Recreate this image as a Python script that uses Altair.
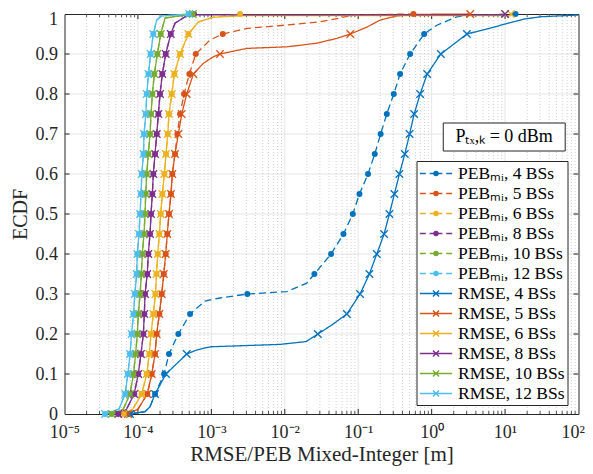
import altair as alt
import pandas as pd

# ---------------- data ----------------
LEVELS = [0.0, 0.05, 0.10, 0.15, 0.20, 0.25, 0.30, 0.35, 0.40, 0.45, 0.50,
          0.55, 0.60, 0.65, 0.70, 0.75, 0.80, 0.85, 0.90, 0.95, 1.0]

SERIES = ["PEBₘᵢ, 4 BSs", "PEBₘᵢ, 5 BSs", "PEBₘᵢ, 6 BSs", "PEBₘᵢ, 8 BSs",
          "PEBₘᵢ, 10 BSs", "PEBₘᵢ, 12 BSs",
          "RMSE, 4 BSs", "RMSE, 5 BSs", "RMSE, 6 BSs", "RMSE, 8 BSs",
          "RMSE, 10 BSs", "RMSE, 12 BSs"]
COLORS = ["#0072BD", "#D95319", "#EDB120", "#7E2F8E", "#77AC30", "#4DBEEE"] * 2

# x value of each curve at the marker levels (LEVELS)
PEB4 = [7.8e-5, 1.71e-4, 2.27e-4, 2.65e-4, 3.55e-4, 5.13e-4, 3.09e-3, 2.53e-2, 4.27e-2, 6.29e-2, 8.44e-2,
        0.104, 0.136, 0.168, 0.202, 0.245, 0.305, 0.372, 0.509, 0.79, 13.9]
PEB5 = [7.33e-5, 1.343e-4, 1.542e-4, 1.71e-4, 1.80e-4, 1.958e-4, 2.11e-4, 2.25e-4, 2.39e-4, 2.51e-4, 2.65e-4,
        2.82e-4, 2.94e-4, 3.2e-4, 3.44e-4, 3.75e-4, 4.25e-4, 5.01e-4, 6.13e-4, 1.43e-3, 0.565]
PEB6 = [6.47e-5, 1.126e-4, 1.318e-4, 1.43e-4, 1.508e-4, 1.621e-4, 1.73e-4, 1.79e-4, 1.862e-4, 1.958e-4, 2.045e-4,
        2.15e-4, 2.29e-4, 2.41e-4, 2.55e-4, 2.65e-4, 2.89e-4, 3.13e-4, 3.75e-4, 4.86e-4, 2.46e-3]
PEB8 = [5.4e-5, 8.9e-5, 1.01e-4, 1.10e-4, 1.185e-4, 1.222e-4, 1.25e-4, 1.339e-4, 1.386e-4, 1.462e-4, 1.508e-4,
        1.571e-4, 1.621e-4, 1.71e-4, 1.803e-4, 1.898e-4, 2.0e-4, 2.15e-4, 2.39e-4, 2.80e-4, 5.8e-4]
PEB10 = [4.4e-5, 7.8e-5, 8.7e-5, 9.3e-5, 9.8e-5, 1.013e-4, 1.07e-4, 1.113e-4, 1.148e-4, 1.21e-4, 1.249e-4,
         1.277e-4, 1.318e-4, 1.386e-4, 1.462e-4, 1.508e-4, 1.571e-4, 1.673e-4, 1.838e-4, 2.045e-4, 5.55e-4]
PEB12 = [3.56e-5, 6.7e-5, 7.3e-5, 7.8e-5, 8.2e-5, 8.7e-5, 9.1e-5, 9.6e-5, 9.8e-5, 1.035e-4, 1.07e-4,
         1.10e-4, 1.13e-4, 1.19e-4, 1.21e-4, 1.28e-4, 1.32e-4, 1.39e-4, 1.49e-4, 1.62e-4, 4.9e-4]
RMSE4 = [7.8e-5, 1.71e-4, 2.41e-4, 4.62e-4, 2.82e-2, 7.0e-2, 0.106, 0.142, 0.179, 0.225, 0.266,
         0.311, 0.364, 0.431, 0.501, 0.578, 0.697, 0.869, 1.335, 3.02, None]
RMSE5 = [7.33e-5, 1.343e-4, 1.542e-4, 1.71e-4, 1.80e-4, 1.958e-4, 2.11e-4, 2.25e-4, 2.39e-4, 2.51e-4, 2.65e-4,
         2.82e-4, 2.94e-4, 3.2e-4, 3.55e-4, 3.95e-4, 4.62e-4, 5.69e-4, 1.31e-3, 7.8e-2, 3.35]
RMSE6 = [6.47e-5, 1.126e-4, 1.318e-4, 1.43e-4, 1.508e-4, 1.621e-4, 1.73e-4, 1.79e-4, 1.862e-4, 1.958e-4, 2.045e-4,
         2.15e-4, 2.29e-4, 2.41e-4, 2.55e-4, 2.65e-4, 2.89e-4, 3.13e-4, 3.75e-4, 4.86e-4, 12.0]
RMSE8 = [5.4e-5, 8.9e-5, 1.01e-4, 1.10e-4, 1.185e-4, 1.222e-4, 1.25e-4, 1.339e-4, 1.386e-4, 1.462e-4, 1.508e-4,
         1.571e-4, 1.621e-4, 1.71e-4, 1.803e-4, 1.898e-4, 2.0e-4, 2.15e-4, 2.39e-4, 2.80e-4, 10.0]
RMSE10 = [4.4e-5, 7.8e-5, 8.7e-5, 9.3e-5, 9.8e-5, 1.013e-4, 1.07e-4, 1.113e-4, 1.148e-4, 1.21e-4, 1.249e-4,
          1.277e-4, 1.318e-4, 1.386e-4, 1.462e-4, 1.508e-4, 1.571e-4, 1.673e-4, 1.838e-4, 2.045e-4, 5.6e-4]
RMSE12 = [3.56e-5, 6.7e-5, 7.3e-5, 7.8e-5, 8.2e-5, 8.7e-5, 9.1e-5, 9.6e-5, 9.8e-5, 1.035e-4, 1.07e-4,
          1.10e-4, 1.13e-4, 1.19e-4, 1.21e-4, 1.28e-4, 1.32e-4, 1.39e-4, 1.49e-4, 1.62e-4, 5.0e-4]

# intermediate (x, y) points of each curve between marker levels
PEB4_EXTRA = [(1.25e-4, 0.006), (1.46e-4, 0.018), (8.2e-4, 0.2825), (1.31e-3, 0.29), (1.07e-2, 0.306),
              (1.99e-2, 0.327), (1.18, 0.972), (2.2, 0.993), (3.35, 0.997)]
PEB5_EXTRA = [(1.0e-4, 0.012), (9.6e-4, 0.935), (3.04e-3, 0.964), (1.07e-2, 0.9725), (2.84e-2, 0.98),
              (5.67e-2, 0.99), (8.3e-2, 0.9975)]
PEB6_EXTRA = [(8.5e-5, 0.012), (6.65e-4, 0.98), (1.065e-3, 0.992), (1.8e-3, 0.997)]
PEB8_EXTRA = [(7.0e-5, 0.012), (3.2e-4, 0.977), (4.38e-4, 0.993)]
PEB10_EXTRA = [(6.3e-5, 0.012), (2.34e-4, 0.99)]
PEB12_EXTRA = [(5.5e-5, 0.012), (1.80e-4, 0.985), (2.11e-4, 0.995)]
RMSE4_EXTRA = [(1.25e-4, 0.006), (1.46e-4, 0.018), (6.33e-4, 0.16), (9.6e-4, 0.168), (8.6e-3, 0.174),
               (1.95e-2, 0.181), (4.37e-2, 0.2225), (6.95, 0.967), (17.8, 0.987), (30.1, 0.993),
               (100.0, 0.9975)]
RMSE5_EXTRA = [(1.0e-4, 0.012), (7.8e-4, 0.877), (1.065e-3, 0.893), (3.04e-3, 0.914), (1.07e-2, 0.918),
               (2.73e-2, 0.927), (5.1e-2, 0.939), (0.131, 0.967), (0.199, 0.985), (0.336, 0.995),
               (0.565, 0.999)]
RMSE6_EXTRA = [(8.5e-5, 0.012), (6.65e-4, 0.98), (1.065e-3, 0.992), (3.0e-3, 0.996), (11.9, 0.996)]
RMSE8_EXTRA = [(7.0e-5, 0.012), (3.2e-4, 0.977), (4.38e-4, 0.993), (5.8e-4, 0.998), (9.9, 0.998)]
RMSE10_EXTRA = [(6.3e-5, 0.012), (2.34e-4, 0.99)]
RMSE12_EXTRA = [(5.5e-5, 0.012), (1.80e-4, 0.985), (2.11e-4, 0.995)]

MARKER_X = [PEB4, PEB5, PEB6, PEB8, PEB10, PEB12, RMSE4, RMSE5, RMSE6, RMSE8, RMSE10, RMSE12]
EXTRA_XY = [PEB4_EXTRA, PEB5_EXTRA, PEB6_EXTRA, PEB8_EXTRA, PEB10_EXTRA, PEB12_EXTRA,
            RMSE4_EXTRA, RMSE5_EXTRA, RMSE6_EXTRA, RMSE8_EXTRA, RMSE10_EXTRA, RMSE12_EXTRA]

DECADES = [1e-5, 1e-4, 1e-3, 1e-2, 1e-1, 1e0, 1e1, 1e2]
Y_TICKS = [0, 0.1, 0.2, 0.3, 0.4, 0.5, 0.6, 0.7, 0.8, 0.9, 1]
MINOR_X = [m * 10.0 ** e for e in range(-5, 2) for m in range(2, 10)]

ANNOT_TEXT = "Pₜₓ,ₖ = 0 dBm"

# ---------------- build tables ----------------
rows = []
for s, mx, ex in zip(SERIES, MARKER_X, EXTRA_XY):
    pts = [(x, y, True) for x, y in zip(mx, LEVELS) if x is not None]
    pts += [(x, y, False) for x, y in ex]
    pts.sort(key=lambda p: (p[1], p[0]))
    kind = "PEB" if s.startswith("PEB") else "RMSE"
    for i, (x, y, m) in enumerate(pts):
        rows.append({"series": s, "x": x, "y": y, "marker": m, "idx": i, "kind": kind})
df = pd.DataFrame(rows)
df_mark = df[df["marker"]]

FONT = "Liberation Serif"
TXT = "#262626"
W, H = 514, 400

xscale = alt.Scale(type="log", domain=[1e-5, 100], nice=False)
yscale = alt.Scale(domain=[0, 1], nice=False, zero=False)
cscale = alt.Scale(domain=SERIES, range=COLORS)

sup = "['⁻⁵','⁻⁴','⁻³','⁻²','⁻¹','⁰','¹','²'][round(log(datum.value)/LN10)+5]"

xaxis = alt.Axis(values=DECADES, labelExpr="'10' + " + sup, grid=False, ticks=False, domain=False,
                 labelFlush=False, labelOverlap=False, labelPadding=9, labelFont=FONT, labelFontSize=18,
                 labelAlign={"condition": {"test": "datum.value >= 99", "value": "right"}, "value": "center"},
                 labelOffset={"condition": {"test": "datum.value >= 99", "value": 6}, "value": 0},
                 labelColor=TXT, title="RMSE/PEB Mixed-Integer [m]", titleFont=FONT, titleFontSize=21,
                 titleFontWeight="normal", titleColor=TXT, titleX=W / 2, titleY=40,
                 titleBaseline="middle", titleAlign="center")
yaxis = alt.Axis(values=Y_TICKS, format="~g", grid=False, ticks=False, domain=False, labelPadding=7,
                 labelFont=FONT, labelFontSize=18, labelColor=TXT,
                 labelOffset={"condition": {"test": "datum.value >= 0.99", "value": 5}, "value": 0},
                 title="ECDF", titleFont=FONT,
                 titleFontSize=20, titleFontWeight="normal", titleColor=TXT, titleX=-44, titleY=H / 2,
                 titleAngle=270, titleAlign="center", titleBaseline="middle")

X = lambda f="x": alt.X(f + ":Q", scale=xscale, axis=xaxis)
Y = lambda f="y": alt.Y(f + ":Q", scale=yscale, axis=yaxis)

# grid
major_x = alt.Chart(pd.DataFrame({"x": DECADES[1:-1]})).mark_rule(color="#dedede", strokeWidth=0.8).encode(x=X())
major_y = alt.Chart(pd.DataFrame({"y": Y_TICKS[1:-1]})).mark_rule(color="#dedede", strokeWidth=0.8).encode(y=Y())
minor_x = alt.Chart(pd.DataFrame({"x": MINOR_X})).mark_rule(
    color="#c4c4c4", strokeWidth=0.8, strokeDash=[1, 2]).encode(x=X())

# inward ticks
tick_color = "#262626"
mt_b = alt.Chart(pd.DataFrame({"x": DECADES[1:-1]})).mark_rule(color=tick_color).encode(
    x=X(), y=alt.value(H), y2=alt.value(H - 5))
mt_t = alt.Chart(pd.DataFrame({"x": DECADES[1:-1]})).mark_rule(color=tick_color).encode(
    x=X(), y=alt.value(0), y2=alt.value(5))
nt_b = alt.Chart(pd.DataFrame({"x": MINOR_X})).mark_rule(color=tick_color, strokeWidth=0.8).encode(
    x=X(), y=alt.value(H), y2=alt.value(H - 3))
nt_t = alt.Chart(pd.DataFrame({"x": MINOR_X})).mark_rule(color=tick_color, strokeWidth=0.8).encode(
    x=X(), y=alt.value(0), y2=alt.value(3))
yt_l = alt.Chart(pd.DataFrame({"y": Y_TICKS[1:-1]})).mark_rule(color=tick_color).encode(
    y=Y(), x=alt.value(0), x2=alt.value(5))
yt_r = alt.Chart(pd.DataFrame({"y": Y_TICKS[1:-1]})).mark_rule(color=tick_color).encode(
    y=Y(), x=alt.value(W), x2=alt.value(W - 5))

# curves
lines = alt.Chart(df).mark_line(strokeWidth=1.3).encode(
    x=X(), y=Y(),
    color=alt.Color("series:N", scale=cscale, legend=None),
    strokeDash=alt.StrokeDash("series:N", scale=alt.Scale(domain=SERIES, range=[[7, 4]] * 6 + [[1, 0]] * 6),
                              legend=None),
    order=alt.Order("idx:Q"),
)
dots = alt.Chart(df_mark[df_mark["kind"] == "PEB"]).mark_point(
    shape="circle", filled=True, size=36, opacity=1).encode(
    x=X(), y=Y(), color=alt.Color("series:N", scale=cscale, legend=None))
crosses = alt.Chart(df_mark[df_mark["kind"] == "RMSE"]).mark_point(
    shape="M-1,-1L1,1M-1,1L1,-1", filled=False, size=56, strokeWidth=1.3, opacity=1).encode(
    x=X(), y=Y(), color=alt.Color("series:N", scale=cscale, legend=None))

# legend (driven by the scales, no marks drawn); symbols span x in [-1.9, 1.9] units
PEB_SYM = ("M-1.9,0H-1.2M-0.75,0H0.75M1.2,0H1.9"
           "M-0.24,0A0.24,0.24 0 1,1 0.24,0A0.24,0.24 0 1,1 -0.24,0"
           "M-0.1,0A0.1,0.1 0 1,1 0.1,0A0.1,0.1 0 1,1 -0.1,0")
RMSE_SYM = "M-1.9,0H1.9M-0.36,-0.36L0.36,0.36M-0.36,0.36L0.36,-0.36"
leg = alt.Legend(title=None, orient="none", legendX=352, legendY=147, symbolSize=289,
                 symbolOffset=7, symbolStrokeWidth=1.4, labelFont=FONT, labelFontSize=17.5,
                 labelColor="#000", labelOffset=12.5, strokeColor="#262626", fillColor="white",
                 padding=3, rowPadding=2, symbolOpacity=1, labelLimit=300)
legend_layer = alt.Chart(df).transform_filter("false").mark_point(filled=False, opacity=1, strokeWidth=1.4).encode(
    x=X(), y=Y(),
    color=alt.Color("series:N", scale=cscale, legend=leg),
    shape=alt.Shape("series:N", scale=alt.Scale(domain=SERIES, range=[PEB_SYM] * 6 + [RMSE_SYM] * 6), legend=leg),
)

# annotation box
ann = pd.DataFrame({"x1": [1.44], "x2": [65.9], "y1": [0.6575], "y2": [0.7275],
                    "xt": [9.7], "yt": [0.6925], "text": [ANNOT_TEXT]})
ann_box = alt.Chart(ann).mark_rect(fill="white", stroke="#262626", strokeWidth=1).encode(
    x=X("x1"), x2="x2", y=Y("y1"), y2="y2")
ann_text = alt.Chart(ann).mark_text(font=FONT, fontSize=18, color="#000", align="center",
                                    baseline="middle").encode(x=X("xt"), y=Y("yt"), text="text:N")

chart = alt.layer(
    major_x, major_y, minor_x, mt_b, mt_t, nt_b, nt_t, yt_l, yt_r,
    lines, dots, crosses, legend_layer, ann_box, ann_text
).resolve_scale(color="independent", shape="independent").properties(
    width=W, height=H, autosize="none",
    padding={"left": 56.5, "top": 6, "right": 6.5, "bottom": 52},
).configure_view(stroke="#262626", strokeWidth=1)

chart.save("out.html", embed_options={"renderer": "svg", "actions": False})
